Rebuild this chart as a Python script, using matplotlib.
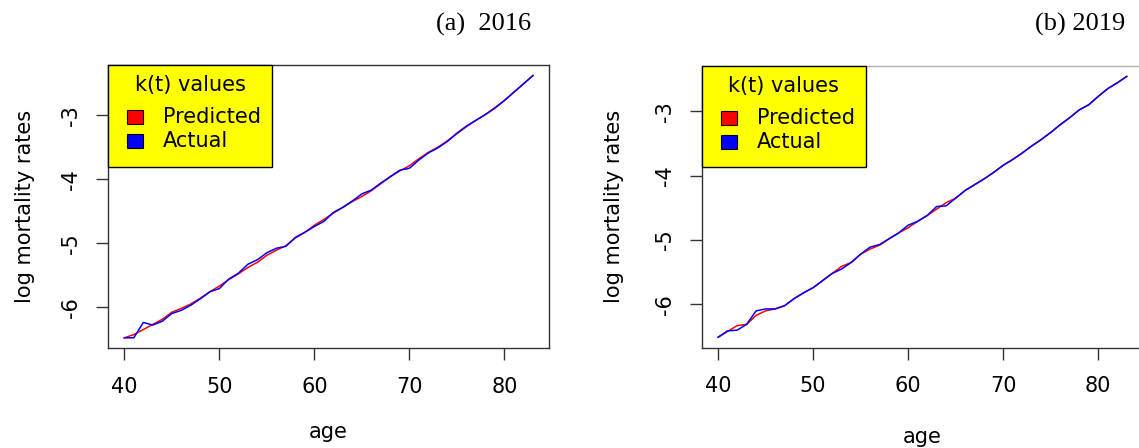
import numpy as np
import matplotlib.pyplot as plt
from matplotlib.patches import Rectangle

plt.rcParams['font.family'] = 'DejaVu Sans'

age = np.arange(40, 84)

# 2016: log mortality rates by age
pred_2016 = [-6.48, -6.43, -6.35, -6.27, -6.19, -6.08, -6.02, -5.95, -5.86, -5.76,
             -5.67, -5.57, -5.48, -5.38, -5.30, -5.19, -5.11, -5.04, -4.92, -4.83,
             -4.72, -4.63, -4.53, -4.44, -4.35, -4.27, -4.18, -4.07, -3.96, -3.87,
             -3.79, -3.68, -3.58, -3.50, -3.40, -3.29, -3.18, -3.08, -2.99, -2.88,
             -2.77, -2.64, -2.51, -2.38]
act_2016 = [-6.48, -6.48, -6.24, -6.28, -6.22, -6.10, -6.05, -5.97, -5.87, -5.76,
            -5.71, -5.56, -5.47, -5.33, -5.26, -5.15, -5.08, -5.05, -4.91, -4.83,
            -4.74, -4.66, -4.52, -4.44, -4.34, -4.23, -4.17, -4.06, -3.96, -3.86,
            -3.83, -3.70, -3.59, -3.51, -3.41, -3.28, -3.17, -3.08, -2.99, -2.89,
            -2.77, -2.64, -2.51, -2.38]

# 2019: log mortality rates by age
pred_2019 = [-6.51, -6.42, -6.33, -6.31, -6.17, -6.10, -6.07, -6.02, -5.91, -5.82,
             -5.74, -5.63, -5.52, -5.41, -5.35, -5.22, -5.14, -5.08, -4.98, -4.89,
             -4.81, -4.71, -4.62, -4.52, -4.42, -4.35, -4.23, -4.14, -4.05, -3.95,
             -3.84, -3.75, -3.65, -3.54, -3.44, -3.33, -3.21, -3.10, -2.98, -2.90,
             -2.77, -2.65, -2.56, -2.46]
act_2019 = [-6.51, -6.41, -6.40, -6.31, -6.10, -6.07, -6.07, -6.02, -5.91, -5.82,
            -5.74, -5.63, -5.52, -5.45, -5.35, -5.22, -5.11, -5.07, -4.98, -4.89,
            -4.77, -4.71, -4.62, -4.48, -4.47, -4.35, -4.23, -4.14, -4.05, -3.95,
            -3.84, -3.75, -3.65, -3.54, -3.44, -3.33, -3.21, -3.10, -2.98, -2.90,
            -2.77, -2.65, -2.56, -2.46]

legend_labels = ['Predicted', 'Actual']
legend_colors = ['red', 'blue']

panels = [("(a)  2016", pred_2016, act_2016), ("(b) 2019", pred_2019, act_2019)]

fig = plt.figure(figsize=(11.39, 4.48), dpi=100)
boxes = [[0.0948, 0.2225, 0.3875, 0.6324], [0.6161, 0.2239, 0.3875, 0.6288]]
title_x = [531 / 1139, 1125 / 1139]
xpads = [18, 22]
ypads = [19, 22]

for i, (title, pred, act) in enumerate(panels):
    ax = fig.add_axes(boxes[i])
    ax.plot(age, pred, color='red', lw=1.1)
    ax.plot(age, act, color='blue', lw=1.1)

    # R style axis ranges: 4% padding around the data
    lo = min(min(pred), min(act))
    hi = max(max(pred), max(act))
    ax.set_xlim(40 - 0.04 * 43, 83 + 0.04 * 43)
    ax.set_ylim(lo - 0.04 * (hi - lo), hi + 0.04 * (hi - lo))
    ax.set_xticks([40, 50, 60, 70, 80])
    ax.set_yticks([-6, -5, -4, -3])
    ax.set_yticklabels(['-6', '-5', '-4', '-3'])

    for s in ax.spines.values():
        s.set_color('#333333')
        s.set_linewidth(1.0)
    if i == 1:
        ax.spines['top'].set_color('#b0b0b0')

    ax.tick_params(axis='both', direction='out', length=8.5, width=1.0,
                   labelsize=15, color='#333333')
    ax.tick_params(axis='x', pad=12)
    ax.tick_params(axis='y', pad=11, labelrotation=90)
    for lab in ax.get_yticklabels():
        lab.set_va('center')

    ax.set_xlabel('age', fontsize=15, labelpad=xpads[i])
    ax.set_ylabel('log mortality rates', fontsize=15, labelpad=ypads[i])

    # legend box in the top left corner, R style
    ax.add_patch(Rectangle((0, 0.640), 0.372, 0.360, transform=ax.transAxes,
                           facecolor='yellow', edgecolor='black', lw=1.0,
                           zorder=5, clip_on=False))
    ax.text(0.186, 0.929, 'k(t) values', transform=ax.transAxes, ha='center',
            va='center', fontsize=15, zorder=6)
    for j, (lab, col) in enumerate(zip(legend_labels, legend_colors)):
        yc = 0.816 - j * 0.085
        ax.add_patch(Rectangle((0.044, yc - 0.024), 0.036, 0.048,
                               transform=ax.transAxes, facecolor=col,
                               edgecolor='black', lw=0.8, zorder=6))
        ax.text(0.125, yc, lab, transform=ax.transAxes, ha='left',
                va='center', fontsize=15, zorder=6)

    fig.text(title_x[i], 0.946, title, ha='right', va='center', fontsize=19,
             family='Liberation Serif')

fig.savefig('out.png', dpi=100)
